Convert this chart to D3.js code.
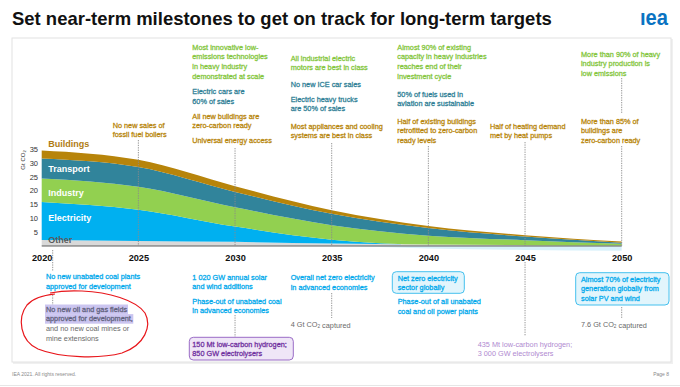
<!DOCTYPE html>
<html><head><meta charset="utf-8">
<script src="https://cdn.jsdelivr.net/npm/d3@7"></script>
<style>
body{margin:0;background:#fff}
svg{display:block}
text{font-family:"Liberation Sans",Arial,sans-serif}
</style></head>
<body>
<svg id="c" width="680" height="387"></svg>
<script>
// ---------- data ----------
const years = [2020, 2025, 2030, 2035, 2040, 2045, 2050];
const other = [2.2, 1.8, 1.5, 0.9, 0.5, 0.3, 0.2];
const electricity = [13.7, 11.3, 5.5, 1.4, 0, 0, 0];
const electricityNegative = [0, 0, 0, 0, -0.9, -1.4, -1.7];
const industry = [8.5, 8.3, 7.0, 5.2, 3.2, 1.8, 0.6];
const transport = [7.2, 7.1, 5.5, 4.1, 2.8, 1.3, 0.4];
const buildings = [2.9, 2.6, 2.1, 1.3, 0.7, 0.5, 0.4];
const sectorNames = ["Other", "Electricity", "Industry", "Transport", "Buildings"];
const yTicks = [5, 10, 15, 20, 25, 30, 35];
const xTicks = [2020, 2025, 2030, 2035, 2040, 2045, 2050];

const topMilestones = [
  {x:112.7, y:125,  c:"brown", lines:["No new sales of","fossil fuel boilers"]},
  {x:192.3, y:47.3, c:"green", lines:["Most innovative low-","emissions technologies","in heavy industry","demonstrated at scale"]},
  {x:192.3, y:91.7, c:"teal",  lines:["Electric cars are","60% of sales"]},
  {x:192.3, y:116,  c:"brown", lines:["All new buildings are","zero-carbon ready"]},
  {x:192.3, y:140,  c:"brown", lines:["Universal energy access"]},
  {x:290.7, y:58.3, c:"green", lines:["All industrial electric","motors are best in class"]},
  {x:290.7, y:84,   c:"teal",  lines:["No new ICE car sales"]},
  {x:290.7, y:99,   c:"teal",  lines:["Electric heavy trucks","are 50% of sales"]},
  {x:290.7, y:126,  c:"brown", lines:["Most appliances and cooling","systems are best in class"]},
  {x:397.3, y:47.3, c:"green", lines:["Almost 90% of existing","capacity in heavy industries","reaches end of their","investment cycle"]},
  {x:397.3, y:94,   c:"teal",  lines:["50% of fuels used in","aviation are sustainable"]},
  {x:397.3, y:121,  c:"brown", lines:["Half of existing buildings","retrofitted to zero-carbon","ready levels"]},
  {x:490,   y:126,  c:"brown", lines:["Half of heating demand","met by heat pumps"]},
  {x:581,   y:54,   c:"green", lines:["More than 90% of heavy","industry production is","low emissions"]},
  {x:581,   y:121,  c:"brown", lines:["More than 85% of","buildings are","zero-carbon ready"]}
];
const bottomMilestones = [
  {x:46,    y:276.7, c:"blue",   lines:["No new unabated coal plants","approved for development"]},
  {x:46,    y:309.3, c:"hl",     lines:["No new oil and gas fields","approved for development,"]},
  {x:46,    y:328.9, c:"gray",   lines:["and no new coal mines or","mine extensions"]},
  {x:192.3, y:277.3, c:"blue",   lines:["1 020 GW annual solar","and wind additions"]},
  {x:192.3, y:301,   c:"blue",   lines:["Phase-out of unabated coal","in advanced economies"]},
  {x:192.3, y:344.3, c:"purple", lines:["150 Mt low-carbon hydrogen;","850 GW electrolysers"], box:[189.3,337.3,104,22.7]},
  {x:290.7, y:277.7, c:"blue",   lines:["Overall net zero electricity","in advanced economies"]},
  {x:290.7, y:324,   c:"gray",   lines:["4 Gt CO_2 captured"]},
  {x:397.7, y:278,   c:"blue",   lines:["Net zero electricity","sector globally"], box:[392.3,271.7,72,21.6]},
  {x:397.7, y:301.7, c:"blue",   lines:["Phase-out of all unabated","coal and oil power plants"]},
  {x:477.7, y:344,   c:"lpurple",lines:["435 Mt low-carbon hydrogen;","3 000 GW electrolysers"]},
  {x:581,   y:279.3, c:"blue",   lines:["Almost 70% of electricity","generation globally from","solar PV and wind"], box:[575.7,272.7,93.3,32.3]},
  {x:581,   y:324,   c:"gray",   lines:["7.6 Gt CO_2 captured"]}
];

// ---------- styles ----------
const fill = {Other:"#d9d9d9", Electricity:"#00b0f0", Industry:"#92d050", Transport:"#31849b", Buildings:"#b7840a"};
const txtCol = {brown:"#b8860b", green:"#84c63c", teal:"#2f7f96", blue:"#00a9ec", gray:"#6a6a6a",
                hl:"#62627e", purple:"#7030a0", lpurple:"#b08ad0"};

const svg = d3.select("#c");
const x = d3.scaleLinear().domain([2020, 2050]).range([41.7, 621.7]);
const y = d3.scaleLinear().domain([0, 35]).range([246, 149]);

// frame
svg.append("rect").attr("x",13).attr("y",39).attr("width",660).attr("height",325).attr("fill","#f0f0f0");
svg.append("rect").attr("x",12).attr("y",38).attr("width",659).attr("height",324)
  .attr("fill","#fff").attr("stroke","#e2e2e2").attr("stroke-width",1);
svg.append("line").attr("x1",0).attr("x2",680).attr("y1",385.5).attr("y2",385.5).attr("stroke","#e6e6e6");

// title
const title = svg.append("text").attr("x",12).attr("y",24.5).attr("font-weight","bold")
  .attr("font-size",18).attr("fill","#111").text("Set near-term milestones to get on track for long-term targets");
const tl = title.node().getComputedTextLength();
title.attr("font-size", 18*540/tl);
svg.append("text").attr("x",640).attr("y",25).attr("font-weight","bold").attr("font-size",22)
  .attr("fill","#0a73c2").attr("textLength",28).attr("lengthAdjust","spacingAndGlyphs").text("ıea");

// footer
svg.append("text").attr("x",12).attr("y",376).attr("font-size",5).attr("fill","#8a8a8a").text("IEA 2021. All rights reserved.");
svg.append("text").attr("x",669).attr("y",376).attr("font-size",5).attr("fill","#8a8a8a").attr("text-anchor","end").text("Page 8");

// stacked areas
const rows = years.map((yr,i)=>({year:yr, Other:other[i], Electricity:electricity[i], Industry:industry[i], Transport:transport[i], Buildings:buildings[i]}));
const stack = d3.stack().keys(sectorNames)(rows);
const area = d3.area().x(d=>x(d.data.year)).y0(d=>y(d[0])).y1(d=>y(d[1])).curve(d3.curveMonotoneX);
svg.append("g").selectAll("path").data(stack).join("path")
  .attr("d", area).attr("fill", d=>fill[d.key]);
const negArea = d3.area().x((d,i)=>x(years[i])).y0(y(0)).y1(d=>y(d)).curve(d3.curveMonotoneX);
svg.append("path").datum(electricityNegative).attr("d", negArea).attr("fill","#d8f1fb");
svg.append("path").datum(years).attr("d", d3.line().x(d=>x(d)).y(y(0)))
  .attr("stroke","#5e5e5e").attr("stroke-width",1.1).attr("fill","none");

// dashed connectors
const dash = (x0,y1,y2)=>svg.append("line").attr("x1",x0).attr("x2",x0).attr("y1",y1).attr("y2",y2)
  .attr("stroke","#8a8a8a").attr("stroke-width",0.9).attr("stroke-dasharray","1.3,1.1");
dash(x(2025),140,246); dash(x(2030),148,246); dash(x(2035),143,246);
dash(x(2040),146,246); dash(x(2045),142,246); dash(x(2050),146,246); dash(x(2050),78,114);
dash(x(2020)+11,250,271); dash(x(2020)+11,295,305);
dash(x(2030),315,337); dash(x(2035),293,318); dash(x(2045),262,336); dash(x(2050),307,318);

// axes
const yAxis = svg.append("g").attr("transform","translate(41,0)")
  .call(d3.axisLeft(y).tickValues(yTicks).tickSize(0).tickPadding(3));
yAxis.select(".domain").remove();
yAxis.selectAll("text").attr("font-size",7.5).attr("fill","#333").attr("font-family","Liberation Sans, Arial, sans-serif");
const xAxis = svg.append("g").attr("transform","translate(0,254.5)")
  .call(d3.axisBottom(x).tickValues(xTicks).tickFormat(d3.format("d")).tickSize(0).tickPadding(0));
xAxis.select(".domain").remove();
xAxis.selectAll("text").attr("font-size",9.2).attr("font-weight","bold").attr("fill","#111")
  .attr("font-family","Liberation Sans, Arial, sans-serif");

const yl = svg.append("text").attr("transform","translate(24.5,160) rotate(-90)").attr("text-anchor","middle")
  .attr("font-size",6).attr("fill","#333");
yl.append("tspan").text("Gt CO");
yl.append("tspan").attr("font-size",4).attr("dy",1.5).text("2");

// sector labels
const secLab = [["Buildings",144,"#b07c12"],["Transport",169.3,"#fff"],["Industry",192.7,"#fff"],["Electricity",218.3,"#fff"],["Other",239.6,"#5a5a5a"]];
secLab.forEach(([t,yy,c])=>svg.append("text").attr("x",48.3).attr("y",yy).attr("dy","0.35em")
  .attr("font-size",9).attr("font-weight","bold").attr("fill",c).text(t));

// milestone text
const LH = 9.6, FS = 7.3;
function block(m){
  if (m.box) {
    const boxFill = m.c==="purple" ? "#efe6f7" : "#e2f5fc";
    const boxStroke = m.c==="purple" ? "#9a6cc6" : "#45c0ee";
    svg.append("rect").attr("x",m.box[0]).attr("y",m.box[1]).attr("width",m.box[2]).attr("height",m.box[3])
      .attr("rx",4).attr("fill",boxFill).attr("stroke",boxStroke).attr("stroke-width",1);
  }
  const g = svg.append("g");
  const heavy = m.c!=="gray" && m.c!=="lpurple";
  m.lines.forEach((ln,i)=>{
    const t = g.append("text").attr("x",m.x).attr("y",m.y+i*LH).attr("dy","0.35em")
      .attr("font-size",FS).attr("fill",txtCol[m.c]);
    if (heavy) t.attr("stroke",txtCol[m.c]).attr("stroke-width",0.28);
    const parts = ln.split("_2");
    parts.forEach((p,j)=>{
      t.append("tspan").text(p);
      if (j<parts.length-1){
        t.append("tspan").attr("font-size",FS*0.65).attr("dy",1.5).text("2");
        t.append("tspan").attr("dy",-1.5).text("");
      }
    });
    if (m.c==="hl"){
      const bb = t.node().getBBox();
      g.insert("rect","text").attr("x",bb.x-1).attr("y",m.y+i*LH-4.8).attr("width",bb.width+1.5).attr("height",LH)
        .attr("fill","#cbc5f0");
    }
  });
}
topMilestones.forEach(block);
bottomMilestones.forEach(block);

// red hand-drawn circle
svg.append("path")
  .attr("d","M50,293 C60,291 72,290.5 82,291 C108,292 136,300 145,313 C152,326 145,345 122,353 C100,359 60,358 38,349 C20,341 17,318 27,305 C34,297 45,295 55,294")
  .attr("fill","none").attr("stroke","#e8161b").attr("stroke-width",1.2);
</script>
</body></html>
